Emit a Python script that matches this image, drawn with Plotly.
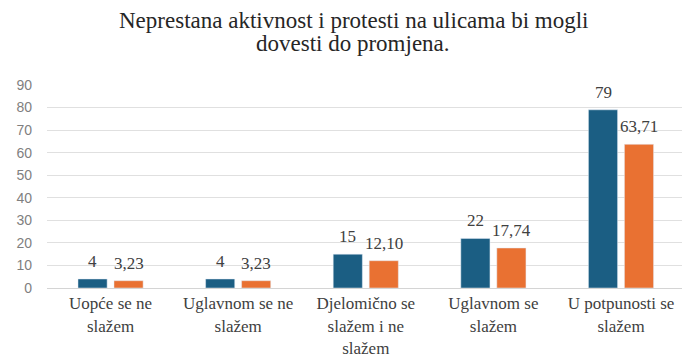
import plotly.graph_objects as go

categories = [
    "Uopće se ne<br>slažem",
    "Uglavnom se ne<br>slažem",
    "Djelomično se<br>slažem i ne<br>slažem",
    "Uglavnom se<br>slažem",
    "U potpunosti se<br>slažem",
]
counts = [4, 4, 15, 22, 79]
percents = [3.23, 3.23, 12.10, 17.74, 63.71]

y_ticks = list(range(0, 91, 10))

title_lines = [
    "Neprestana aktivnost i protesti na ulicama bi mogli",
    "dovesti do promjena.",
]

serif = "Liberation Serif, Times New Roman, serif"
sans = "Liberation Sans, Arial, sans-serif"
label_font = dict(family=serif, size=17, color="#404040")

BLUE = "#1b5e83"
ORANGE = "#e97132"

fig = go.Figure()
fig.add_trace(go.Bar(x=categories, y=counts, marker_color=BLUE, name="N"))
fig.add_trace(go.Bar(x=categories, y=percents, marker_color=ORANGE, name="%"))

# value labels above each bar (left bar of a pair is shifted left, right bar right)
for cat, n, p in zip(categories, counts, percents):
    for val, txt, dx in ((n, str(n), -18), (p, f"{p:.2f}".replace(".", ","), 18)):
        fig.add_annotation(
            x=cat, y=val, text=txt, showarrow=False,
            xanchor="center", yanchor="bottom", xshift=dx, yshift=6,
            font=label_font,
        )

# two-line title
for line, ypos in zip(title_lines, (1.32, 1.202)):
    fig.add_annotation(
        text=line, xref="paper", yref="paper", x=0.482, y=ypos,
        xanchor="center", yanchor="middle", showarrow=False,
        font=dict(family=serif, size=23, color="#262626"),
    )

fig.update_layout(
    width=682, height=360,
    margin=dict(l=47, r=0, t=85, b=72),
    paper_bgcolor="white", plot_bgcolor="white",
    showlegend=False,
    barmode="group",
    bargap=0.436, bargroupgap=0.19,
    xaxis=dict(
        range=[-0.498, 4.478],
        automargin=False,
        tickfont=dict(family=serif, size=17, color="#404040"),
        showline=True, linecolor="#d4d4d4", linewidth=1,
        ticks="",
    ),
    yaxis=dict(
        range=[0, 90], tickvals=y_ticks,
        tickfont=dict(family=sans, size=14, color="#7f7f7f"),
        gridcolor="#e0e0e0", gridwidth=1,
        zeroline=False, showline=False,
        ticklabelstandoff=14,
    ),
)

fig.write_html("out.html")
